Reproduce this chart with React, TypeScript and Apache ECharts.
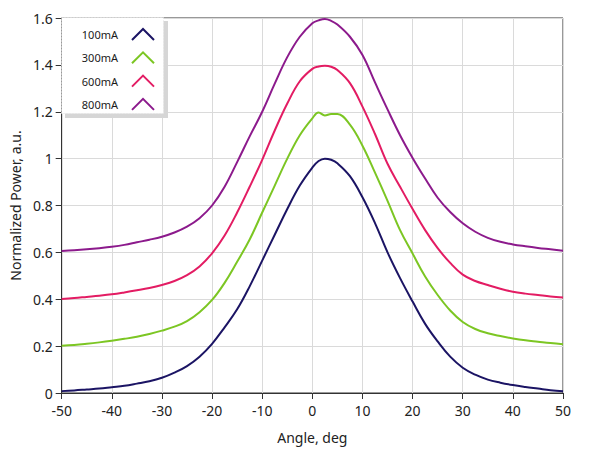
import React, { useEffect, useRef } from "react";
import * as echarts from "echarts";

const angles = [-50, -47.5, -45, -42.5, -40, -37.5, -35, -32.5, -30, -27.5, -25, -22.5, -20, -17.5, -15, -12.5, -10, -7.5, -5, -2.5, 0, 1.25, 2.5, 3.75, 5, 7.5, 10, 12.5, 15, 17.5, 20, 22.5, 25, 27.5, 30, 32.5, 35, 37.5, 40, 42.5, 45, 47.5, 50];

const power100 = [0.008, 0.011, 0.015, 0.019, 0.025, 0.031, 0.04, 0.05, 0.065, 0.087, 0.115, 0.155, 0.21, 0.28, 0.357, 0.455, 0.565, 0.675, 0.785, 0.885, 0.962, 0.99, 1.0, 0.995, 0.98, 0.925, 0.835, 0.725, 0.6, 0.49, 0.39, 0.295, 0.22, 0.155, 0.108, 0.078, 0.057, 0.044, 0.034, 0.026, 0.019, 0.012, 0.007];
const power300 = [0.202, 0.205, 0.21, 0.216, 0.223, 0.231, 0.24, 0.252, 0.266, 0.283, 0.307, 0.345, 0.397, 0.47, 0.56, 0.655, 0.77, 0.885, 1.0, 1.1, 1.172, 1.197, 1.184, 1.19, 1.19, 1.145, 1.055, 0.94, 0.82, 0.695, 0.595, 0.497, 0.418, 0.352, 0.303, 0.273, 0.255, 0.243, 0.233, 0.225, 0.219, 0.213, 0.208];
const power600 = [0.401, 0.405, 0.41, 0.415, 0.421, 0.429, 0.438, 0.448, 0.461, 0.478, 0.503, 0.54, 0.596, 0.672, 0.77, 0.88, 0.995, 1.12, 1.235, 1.33, 1.383, 1.393, 1.396, 1.392, 1.378, 1.322, 1.222, 1.105, 0.978, 0.88, 0.785, 0.695, 0.618, 0.555, 0.505, 0.478, 0.461, 0.445, 0.432, 0.424, 0.418, 0.412, 0.407];
const power800 = [0.606, 0.609, 0.613, 0.618, 0.624, 0.632, 0.643, 0.654, 0.667, 0.685, 0.71, 0.746, 0.8, 0.88, 0.985, 1.095, 1.2, 1.32, 1.433, 1.52, 1.578, 1.59, 1.596, 1.588, 1.572, 1.52, 1.442, 1.325, 1.21, 1.1, 1.003, 0.915, 0.833, 0.772, 0.724, 0.688, 0.662, 0.645, 0.634, 0.626, 0.619, 0.613, 0.607];

const seriesNames = ["100mA", "300mA", "600mA", "800mA"];
const seriesValues = [power100, power300, power600, power800];
const seriesColors = ["#1b1464", "#7cc623", "#e31c63", "#8c1a8c"];

const xName = "Angle, deg";
const yName = "Normalized Power, a.u.";

export default function App() {
  const ref = useRef<HTMLDivElement>(null);

  useEffect(() => {
    if (!ref.current) return;
    const chart = echarts.init(ref.current, undefined, { renderer: "svg" });
    const font = "'Noto Sans', 'Open Sans', sans-serif";

    const legendTop = 34.5;
    const legendStep = 23.3;
    const legendElems: any[] = [
      {
        type: "rect",
        shape: { x: 65, y: 21, width: 103, height: 97 },
        style: { fill: "#d6d6d6" },
        z: 100,
      },
      {
        type: "rect",
        shape: { x: 61.5, y: 17.5, width: 102, height: 96 },
        style: { fill: "#ffffff", stroke: "#e2e2e2", lineWidth: 1, lineDash: [1, 2] },
        z: 101,
      },
    ];
    seriesNames.forEach((name, i) => {
      const cy = legendTop + i * legendStep;
      legendElems.push({
        type: "text",
        x: 118,
        y: cy,
        style: {
          text: name,
          fontSize: 11,
          fontFamily: font,
          fill: "#1a1a1a",
          align: "right",
          verticalAlign: "middle",
        },
        z: 102,
      });
      legendElems.push({
        type: "polyline",
        shape: { points: [[132, cy + 5.5], [143, cy - 5.5], [154, cy + 5.5]] },
        style: { stroke: seriesColors[i], lineWidth: 2, fill: "none" },
        z: 102,
      });
    });

    chart.setOption({
      animation: false,
      backgroundColor: "#ffffff",
      textStyle: { fontFamily: font },
      grid: {
        left: 61,
        right: 26,
        top: 18,
        bottom: 63,
        show: true,
        borderColor: "#333333",
        borderWidth: 1,
      },
      xAxis: {
        type: "value",
        min: -50,
        max: 50,
        interval: 10,
        name: xName,
        nameLocation: "middle",
        nameGap: 37,
        nameTextStyle: { fontSize: 14, color: "#222", fontFamily: font },
        axisLine: { show: true, onZero: false, lineStyle: { color: "#333", width: 1 } },
        axisTick: { show: true, length: 6, lineStyle: { color: "#333" } },
        axisLabel: { fontSize: 14, color: "#222", margin: 10, fontFamily: font },
        splitLine: { show: true, lineStyle: { color: "#dadada", width: 1 } },
      },
      yAxis: {
        type: "value",
        min: 0,
        max: 1.6,
        interval: 0.2,
        name: yName,
        nameLocation: "middle",
        nameGap: 36,
        nameTextStyle: { fontSize: 14, color: "#222", fontFamily: font },
        axisLine: { show: true, onZero: false, lineStyle: { color: "#333", width: 1 } },
        axisTick: { show: true, length: 6, lineStyle: { color: "#333" } },
        axisLabel: { fontSize: 14, color: "#222", margin: 9, fontFamily: font },
        splitLine: { show: true, lineStyle: { color: "#dadada", width: 1 } },
      },
      series: seriesNames.map((name, i) => ({
        type: "line",
        name,
        data: angles.map((a, j) => [a, seriesValues[i][j]]),
        showSymbol: false,
        symbol: "none",
        smooth: 0.4,
        color: seriesColors[i],
        lineStyle: { width: 2, color: seriesColors[i] },
      })),
      graphic: { elements: legendElems },
    });

    return () => chart.dispose();
  }, []);

  return (
    <div
      ref={ref}
      style={{ position: "fixed", left: 0, top: 0, width: 589, height: 456 }}
    />
  );
}
